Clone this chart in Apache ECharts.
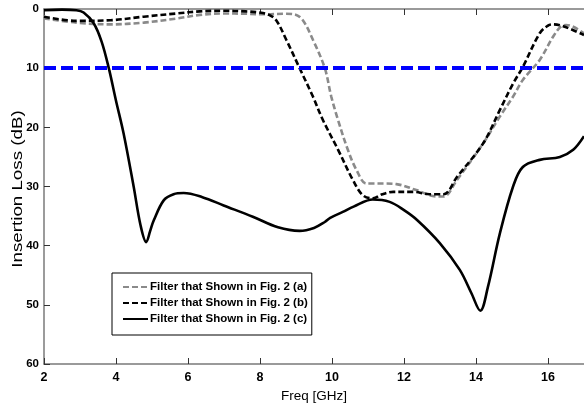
<!DOCTYPE html>
<html>
<head>
<meta charset="utf-8">
<script src="https://cdn.jsdelivr.net/npm/echarts@6/dist/echarts.min.js"></script>
<style>html,body{margin:0;padding:0;background:#fff;}#c{width:584px;height:410px;}</style>
</head>
<body>
<div id="c"></div>
<script>
const seriesNames = ['Filter that Shown in Fig. 2 (a)', 'Filter that Shown in Fig. 2 (b)', 'Filter that Shown in Fig. 2 (c)'];
const xTicks = [2, 4, 6, 8, 10, 12, 14, 16];
const yTicks = [0, 10, 20, 30, 40, 50, 60];
const thresholdDb = 10;
const yAxisTitle = 'Insertion Loss (dB)';
const xAxisTitle = 'Freq [GHz]';

const filterA = [[2,1.6],[2.9,2.3],[3.84,2.6],[4.77,2.3],[5.69,1.6],[6.33,1.0],[6.99,0.75],[7.6,0.8],[8.18,0.9],[8.7,0.8],[8.96,0.9],[9.19,1.9],[9.47,5.2],[9.8,10],[9.98,14.8],[10.17,18.8],[10.44,23.8],[10.68,27.2],[10.96,29.5],[11.42,29.5],[11.79,29.6],[12.34,30.6],[12.92,31.7],[13.1,31.7],[13.47,28.9],[14.2,22.7],[14.66,18.2],[15.03,14.8],[15.3,12.0],[15.77,8.6],[16.14,4.7],[16.35,3.0],[16.5,2.7],[16.7,3.0],[17,4.1]];
const filterB = [[2,1.3],[2.9,2.0],[3.84,1.9],[4.77,1.3],[5.69,0.75],[6.33,0.4],[6.99,0.3],[7.6,0.4],[7.99,0.6],[8.25,1.0],[8.45,1.9],[8.73,5.2],[9.1,10],[9.47,14.8],[9.75,18.8],[10.17,23.8],[10.58,28.9],[10.86,31.5],[11.14,32.0],[11.4,31.3],[11.7,30.9],[12.25,30.9],[12.7,31.3],[13.1,31.3],[13.47,28.4],[14.2,22.7],[14.66,17.1],[15.03,12.6],[15.3,9.8],[15.77,4.1],[16.0,2.8],[16.14,2.6],[16.42,2.9],[17,4.4]];
const filterC = [[2,0.2],[2.5,0.1],[2.9,0.2],[3.1,0.6],[3.38,2.4],[3.6,5.5],[3.8,10],[4.0,15.5],[4.21,21],[4.49,30],[4.68,36.5],[4.84,39.4],[4.95,37.5],[5.05,35.7],[5.33,32.3],[5.6,31.3],[5.88,31.1],[6.4,31.8],[6.99,33.2],[7.8,35.1],[8.5,36.9],[9.1,37.5],[9.5,37.0],[9.8,36],[9.95,35.3],[10.3,34.3],[10.6,33.4],[11.13,32.2],[11.6,32.6],[12.0,34],[12.37,35.7],[13.0,39.6],[13.55,44.1],[13.87,48],[14.12,51],[14.33,47],[14.66,38],[15.03,30],[15.3,26.7],[15.77,25.5],[16.33,25.0],[16.7,23.8],[17,21.5]];

const font = 'Liberation Sans, Arial, sans-serif';
const axisCol = '#7a7a7a';
const chart = echarts.init(document.getElementById('c'), null, {renderer: 'canvas'});
const baseX = {
  type: 'value', min: xTicks[0], max: 17, interval: 2,
  axisLine: {show: true, onZero: false, lineStyle: {color: axisCol, width: 1.5}},
  axisTick: {show: true, inside: true, length: 6, lineStyle: {color: '#333'}},
  splitLine: {show: false}
};
chart.setOption({
  animation: false,
  backgroundColor: '#fff',
  grid: {left: 44, right: 0, top: 9, bottom: 46, containLabel: false, outerBoundsMode: 'none'},
  graphic: [{
    type: 'text', x: 18, y: 189, rotation: Math.PI / 2, scaleX: 1.25, scaleY: 1,
    style: {text: yAxisTitle, fontFamily: font, fontSize: 15, fill: '#000', align: 'center', verticalAlign: 'middle'}
  }],
  legend: {
    data: seriesNames, orient: 'vertical', left: 112, top: 273,
    backgroundColor: '#fff', borderColor: '#000', borderWidth: 1,
    padding: [8, 4, 10, 10], itemGap: 4, itemWidth: 25, itemHeight: 12,
    itemStyle: {opacity: 0},
    textStyle: {fontFamily: font, fontWeight: 'bold', fontSize: 11.5, color: '#000', padding: [0, 0, 0, -3]}
  },
  xAxis: [
    Object.assign({}, baseX, {
      position: 'bottom', name: xAxisTitle, nameLocation: 'middle', nameGap: 22,
      nameTextStyle: {fontFamily: font, fontSize: 13.5, color: '#000'},
      axisLabel: {show: true, showMaxLabel: false, margin: 7, fontFamily: font, fontWeight: 'bold', fontSize: 12.5, color: '#000',
        formatter: v => xTicks.includes(v) ? String(v) : ''}
    }),
    Object.assign({}, baseX, {position: 'top', axisLabel: {show: false}})
  ],
  yAxis: {
    type: 'value', inverse: true, min: yTicks[0], max: yTicks[yTicks.length - 1], interval: 10,
    axisLine: {show: true, onZero: false, lineStyle: {color: axisCol, width: 1.5}},
    axisTick: {show: true, inside: true, length: 6, lineStyle: {color: '#333'}},
    axisLabel: {margin: 5, fontFamily: font, fontWeight: 'bold', fontSize: 11.5, color: '#000'},
    splitLine: {show: false}
  },
  series: [
    {name: seriesNames[0], type: 'line', data: filterA, showSymbol: false, symbol: 'none', smooth: 0.35, z: 3,
      lineStyle: {color: '#8a8a8a', width: 2.6, type: [6, 3]}, itemStyle: {color: '#8a8a8a'}},
    {name: seriesNames[1], type: 'line', data: filterB, showSymbol: false, symbol: 'none', smooth: 0.35, z: 4,
      lineStyle: {color: '#000', width: 2.6, type: [6, 3]}, itemStyle: {color: '#000'}},
    {name: seriesNames[2], type: 'line', data: filterC, showSymbol: false, symbol: 'none', smooth: 0.35, z: 5,
      lineStyle: {color: '#000', width: 2.6, type: 'solid'}, itemStyle: {color: '#000'},
      markLine: {silent: true, symbol: 'none', label: {show: false},
        lineStyle: {color: '#0000ff', width: 4, type: [12, 5]},
        data: [{yAxis: thresholdDb}]}}
  ]
});
</script>
</body>
</html>
